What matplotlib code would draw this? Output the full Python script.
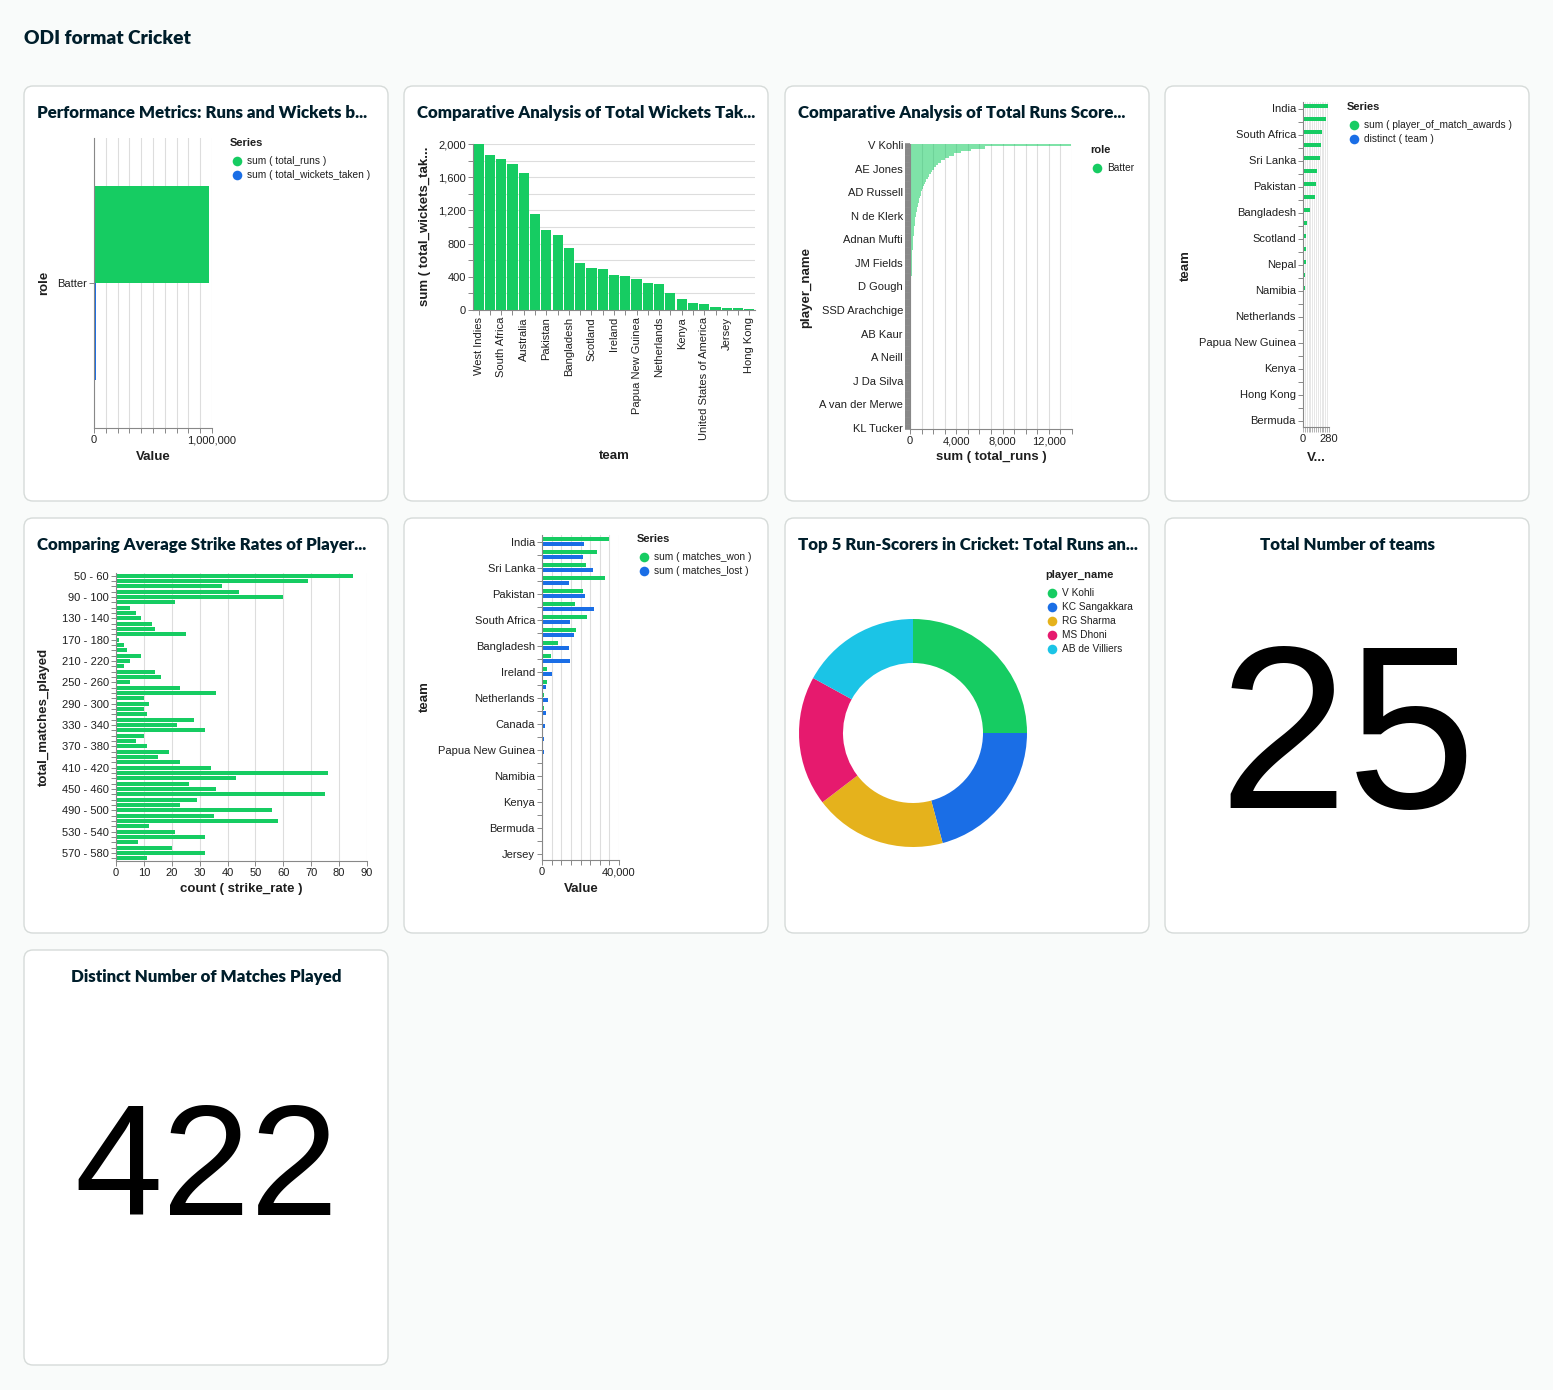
import matplotlib as mpl
import matplotlib.pyplot as plt
from matplotlib.patches import FancyBboxPatch
import numpy as np

mpl.rcParams["font.family"] = ["Liberation Sans", "DejaVu Sans"]

W, H = 1553, 1390

GREEN = "#16cc62"
BLUE = "#1a6ee6"
YELLOW = "#e5b21c"
PINK = "#e61a6e"
CYAN = "#1bc4e6"
TITLE = "#001e2b"
TXT = "#1f1f1f"
AXIS = "#888888"
GRID = "#dddddd"

# ---- data ------------------------------------------------------------------
roles = ["Batter"]
role_total_runs = [972000]
role_total_wickets = [16900]

# wickets by team (sorted), only every second team name is printed on the axis
wk_values = [2000, 1871, 1823, 1755, 1651, 1157, 968, 908, 751, 566, 506, 494,
             426, 414, 373, 325, 317, 209, 133, 88, 68, 40, 28, 24, 16]
wk_labels = ["West Indies", "South Africa", "Australia", "Pakistan", "Bangladesh",
             "Scotland", "Ireland", "Papua New Guinea", "Netherlands", "Kenya",
             "United States of America", "Jersey", "Hong Kong"]

# runs by player (sorted), every tenth name printed
runs_labels = ["V Kohli", "AE Jones", "AD Russell", "N de Klerk", "Adnan Mufti",
               "JM Fields", "D Gough", "SSD Arachchige", "AB Kaur", "A Neill",
               "J Da Silva", "A van der Merwe", "KL Tucker"]
runs_values = [13900,
               6500, 5300, 4400, 3800, 3350, 3000, 2700, 2450, 2250, 2080,
               1920, 1780, 1650, 1530, 1420, 1320, 1230, 1140, 1060, 990,
               920, 860, 800, 750, 700, 655, 615, 575, 540, 505,
               475, 445, 420, 395, 372, 350, 330, 312, 295, 280,
               265, 250, 237, 225, 213, 202, 192, 182, 173, 165,
               157, 150, 143, 136, 130, 124, 118, 113, 108, 103,
               98, 94, 90, 86, 82, 78, 75, 72, 69, 66,
               63, 60, 57, 54, 52, 49, 47, 45, 43, 41,
               39, 37, 35, 33, 31, 30, 28, 27, 25, 24,
               22, 21, 20, 19, 18, 17, 16, 15, 14, 13,
               12, 11, 10, 9, 8, 8, 7, 6, 6, 5,
               5, 4, 4, 3, 3, 2, 2, 1, 1, 0]

# player of the match awards by team
pom_labels = ["India", "South Africa", "Sri Lanka", "Pakistan", "Bangladesh",
              "Scotland", "Nepal", "Namibia", "Netherlands", "Papua New Guinea",
              "Kenya", "Hong Kong", "Bermuda"]
pom_awards = [273, 251, 201, 190, 179, 147, 136, 126, 75, 39, 36, 32, 29,
              18, 18, 14, 11, 7, 4, 2, 2, 1, 0, 0, 0]
pom_teams = [1, 1, 1, 1, 1, 1, 1, 1, 1, 1, 1, 1, 1,
             1, 1, 1, 1, 1, 1, 1, 1, 1, 1, 1, 1]

# strike rate counts per total_matches_played bin, every fourth bin printed
sr_labels = ["50 - 60", "90 - 100", "130 - 140", "170 - 180", "210 - 220",
             "250 - 260", "290 - 300", "330 - 340", "370 - 380", "410 - 420",
             "450 - 460", "490 - 500", "530 - 540", "570 - 580"]
sr_counts = [85, 69, 38, 44, 60, 21, 5, 7, 9, 13, 14, 25, 1, 3, 4, 9, 5, 3,
             14, 16, 5, 23, 36, 10, 12, 10, 11, 28, 22, 32, 10, 7, 11, 19, 15, 23,
             34, 76, 43, 26, 36, 75, 29, 23, 56, 35, 58, 12, 21, 32, 8, 20, 32, 11]

# matches won / lost by team
mw_labels = ["India", "Sri Lanka", "Pakistan", "South Africa", "Bangladesh",
             "Ireland", "Netherlands", "Canada", "Papua New Guinea", "Namibia",
             "Kenya", "Bermuda", "Jersey"]
matches_won = [34800, 28700, 23000, 32900, 21500, 17000, 23400, 17800, 8300, 4500,
               2800, 2800, 1200, 1000, 500, 700, 200, 500, 500, 300, 200, 100, 100, 50, 20]
matches_lost = [21600, 21300, 26700, 13900, 22500, 27000, 14500, 16500, 13900, 14700,
                5400, 2300, 3100, 2300, 1400, 900, 1200, 700, 700, 350, 350, 200, 150, 50, 20]

top5_players = ["V Kohli", "KC Sangakkara", "RG Sharma", "MS Dhoni", "AB de Villiers"]
top5_runs = [13900, 11570, 10450, 10230, 9450]

total_teams = 25
distinct_matches = 422

# ---- canvas ----------------------------------------------------------------
fig = plt.figure(figsize=(W / 100, H / 100), dpi=100)
fig.patch.set_facecolor("#f9fbfa")
bg = fig.add_axes([0, 0, 1, 1])
bg.set_xlim(0, W)
bg.set_ylim(H, 0)
bg.axis("off")

HEAD_FONT = ["Lato", "DejaVu Sans"]


def card(x0, y0, x1, y1):
    bg.add_patch(FancyBboxPatch((x0, y0), x1 - x0, y1 - y0,
                                boxstyle="round,pad=0,rounding_size=9",
                                fc="white", ec="#d6dbd9", lw=1))


def axes_px(x0, y0, x1, y1):
    return fig.add_axes([x0 / W, 1 - y1 / H, (x1 - x0) / W, (y1 - y0) / H])


def style(ax, grid_axis):
    ax.set_facecolor("none")
    for s in ("top", "right"):
        ax.spines[s].set_visible(False)
    for s in ("left", "bottom"):
        ax.spines[s].set_color(AXIS)
        ax.spines[s].set_linewidth(0.8)
    ax.tick_params(colors=AXIS, labelcolor=TXT, length=3.6, width=0.7,
                   labelsize=8, pad=1.5)
    ax.grid(axis=grid_axis, color=GRID, lw=0.8)
    ax.set_axisbelow(True)


def ctitle(x, y, s, ha="left"):
    bg.text(x, y, s, ha=ha, va="center", fontsize=12.2, fontweight="heavy",
            color=TITLE, family=HEAD_FONT)


def atitle(x, y, s, rot=0):
    bg.text(x, y, s, ha="center", va="center", rotation=rot, fontsize=9.5,
            fontweight="bold", color=TXT)


def legend(x, y, title, labels, colors):
    bg.text(x, y, title, ha="left", va="center", fontsize=8, fontweight="bold", color=TXT)
    for i, (lab, c) in enumerate(zip(labels, colors)):
        yy = y + 18 + 14 * i
        bg.scatter([x + 7], [yy], s=48, color=c, lw=0)
        bg.text(x + 17, yy, lab, ha="left", va="center", fontsize=7.3, color=TXT)


def sparse(labels, n, step):
    return [labels[i // step] if i % step == 0 else "" for i in range(n)]


for (x0, y0, x1, y1) in [(24, 86, 388, 501), (404, 86, 768, 501), (785, 86, 1149, 501),
                         (1165, 86, 1529, 501), (24, 518, 388, 933), (404, 518, 768, 933),
                         (785, 518, 1149, 933), (1165, 518, 1529, 933), (24, 950, 388, 1365)]:
    card(x0, y0, x1, y1)

bg.text(24, 38, "ODI format Cricket", ha="left", va="center", fontsize=13.8,
        fontweight="heavy", color=TITLE, family=HEAD_FONT)

# ---- 1: runs and wickets by role --------------------------------------------
ctitle(37, 113, "Performance Metrics: Runs and Wickets b...")
ax = axes_px(94, 138, 212, 428)
style(ax, "x")
yr = np.arange(len(roles))
ax.barh(yr - 0.167, role_total_runs, height=0.334, color=GREEN)
ax.barh(yr + 0.167, role_total_wickets, height=0.334, color=BLUE)
ax.set_ylim(0.5, -0.5)
ax.set_xlim(0, 1_000_000)
ax.set_yticks(yr)
ax.set_yticklabels(roles)
xt = np.arange(0, 1_000_001, 100_000)
ax.set_xticks(xt)
ax.set_xticklabels([f"{v:,}" if v in (0, 1_000_000) else "" for v in xt])
atitle(44, 283, "role", 90)
atitle(153, 457, "Value")
legend(230, 143, "Series", ["sum ( total_runs )", "sum ( total_wickets_taken )"], [GREEN, BLUE])

# ---- 2: wickets by team -------------------------------------------------------
ctitle(417, 113, "Comparative Analysis of Total Wickets Tak...")
ax = axes_px(473, 144, 755, 310)
style(ax, "y")
xw = np.arange(len(wk_values))
ax.bar(xw, wk_values, width=0.9, color=GREEN)
ax.set_xlim(-0.5, len(wk_values) - 0.5)
ax.set_ylim(0, 2000)
yt = np.arange(0, 2001, 200)
ax.set_yticks(yt)
ax.set_yticklabels([f"{v:,}" if v % 400 == 0 else "" for v in yt])
ax.set_xticks(xw)
ax.set_xticklabels(sparse(wk_labels, len(wk_values), 2), rotation=90)
atitle(425, 226, "sum ( total_wickets_tak...", 90)
atitle(614, 456, "team")

# ---- 3: runs by player ------------------------------------------------------
ctitle(798, 113, "Comparative Analysis of Total Runs Score...")
ax = axes_px(910, 143.8, 1072, 429.2)
style(ax, "x")
yp = np.arange(len(runs_values))
ax.barh(yp, runs_values, height=1.0, color=GREEN, alpha=0.55, lw=0)
ax.set_ylim(len(runs_values) - 0.5, -0.5)
ax.set_xlim(0, 14000)
xt = np.arange(0, 14001, 1000)
ax.set_xticks(xt)
ax.set_xticklabels([f"{v:,}" if v % 4000 == 0 else "" for v in xt])
ax.set_yticks(yp)
ax.set_yticklabels(sparse(runs_labels, len(runs_values), 10))
ax.tick_params(axis="y", width=2.6, length=3.6)
atitle(806, 287, "player_name", 90)
atitle(991, 457, "sum ( total_runs )")
legend(1090, 150, "role", roles, [GREEN])

# ---- 4: player of match awards by team ---------------------------------------
ax = axes_px(1303, 102, 1329, 427)
style(ax, "x")
yt4 = np.arange(len(pom_awards))
ax.barh(yt4 - 0.2, pom_awards, height=0.36, color=GREEN)
ax.barh(yt4 + 0.2, pom_teams, height=0.36, color=BLUE)
ax.set_ylim(len(pom_awards) - 0.5, -0.5)
ax.set_xlim(0, 280)
xt = np.arange(0, 281, 20)
ax.set_xticks(xt)
ax.set_xticklabels([str(v) if v in (0, 280) else "" for v in xt])
ax.grid(axis="x", color=GRID, lw=0.5)
ax.tick_params(axis="x", width=0.45)
ax.set_yticks(yt4)
ax.set_yticklabels(sparse(pom_labels, len(pom_awards), 2))
atitle(1186, 266, "team", 90)
atitle(1316, 458, "V...")
legend(1347, 107, "Series", ["sum ( player_of_match_awards )", "distinct ( team )"], [GREEN, BLUE])

# ---- 5: strike rate counts -----------------------------------------------------
ctitle(37, 545, "Comparing Average Strike Rates of Player...")
ax = axes_px(116, 573, 367, 861)
style(ax, "x")
ys = np.arange(len(sr_counts))
ax.barh(ys, sr_counts, height=0.72, color=GREEN)
ax.set_ylim(len(sr_counts) - 0.5, -0.5)
ax.set_xlim(0, 90)
ax.set_xticks(np.arange(0, 91, 10))
ax.set_yticks(ys)
ax.set_yticklabels(sparse(sr_labels, len(sr_counts), 4))
atitle(44, 717, "total_matches_played", 90)
atitle(241, 889, "count ( strike_rate )")

# ---- 6: matches won / lost ---------------------------------------------------
ax = axes_px(542, 535, 619, 860)
style(ax, "x")
ym = np.arange(len(matches_won))
ax.barh(ym - 0.2, matches_won, height=0.34, color=GREEN)
ax.barh(ym + 0.2, matches_lost, height=0.34, color=BLUE)
ax.set_ylim(len(matches_won) - 0.5, -0.5)
ax.set_xlim(0, 40000)
xt = np.arange(0, 40001, 5000)
ax.set_xticks(xt)
ax.set_xticklabels([f"{v:,}" if v in (0, 40000) else "" for v in xt])
ax.set_yticks(ym)
ax.set_yticklabels(sparse(mw_labels, len(matches_won), 2))
atitle(425, 697, "team", 90)
atitle(581, 889, "Value")
legend(637, 539, "Series", ["sum ( matches_won )", "sum ( matches_lost )"], [GREEN, BLUE])

# ---- 7: donut ----------------------------------------------------------------
ctitle(798, 545, "Top 5 Run-Scorers in Cricket: Total Runs an...")
ax = axes_px(799, 619, 1027, 847)
donut_colors = [GREEN, BLUE, YELLOW, PINK, CYAN]
ax.pie(top5_runs, colors=donut_colors, startangle=90, counterclock=False,
       wedgeprops=dict(width=44 / 114, lw=0))
ax.set_xlim(-1, 1)
ax.set_ylim(-1, 1)
ax.set_aspect("equal")
legend(1045, 575, "player_name", top5_players, donut_colors)

# ---- 8 / 9: single numbers ------------------------------------------------------
ctitle(1347, 545, "Total Number of teams", ha="center")
bg.text(1347, 808, f"{total_teams}", ha="center", va="baseline", fontsize=167, color="black")
ctitle(206, 977, "Distinct Number of Matches Played", ha="center")
bg.text(206, 1215, f"{distinct_matches}", ha="center", va="baseline", fontsize=114, color="black")

fig.savefig("out.png", dpi=100, facecolor=fig.get_facecolor())
